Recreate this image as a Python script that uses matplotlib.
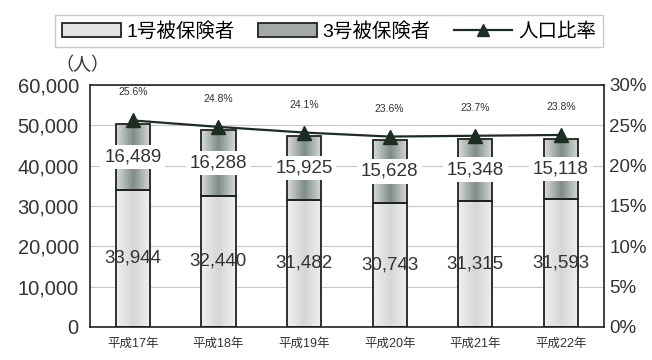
import numpy as np
import matplotlib.pyplot as plt
from matplotlib.colors import LinearSegmentedColormap

plt.rcParams['font.family'] = ['Liberation Sans', 'Noto Sans CJK JP']

years = ['平成17年', '平成18年', '平成19年', '平成20年', '平成21年', '平成22年']
gou1 = [33944, 32440, 31482, 30743, 31315, 31593]
gou3 = [16489, 16288, 15925, 15628, 15348, 15118]
ratio = [25.6, 24.8, 24.1, 23.6, 23.7, 23.8]

fig = plt.figure(figsize=(6.52, 3.6), dpi=100)
ax = fig.add_axes([0.138, 0.092, 0.788, 0.672])
x = np.arange(len(years))

ax.yaxis.grid(True, color='#c8c8c8', lw=0.8)
ax.set_axisbelow(True)
b1 = ax.bar(x, gou1, 0.4, color='#dedede', edgecolor='#222222', lw=1.3, label='1号被保険者')
b2 = ax.bar(x, gou3, 0.4, bottom=gou1, color='#a3aaa6', edgecolor='#222222', lw=1.3, label='3号被保険者')

# horizontal shading inside the bars
cm1 = LinearSegmentedColormap.from_list('g1', ['#f0f0f0', '#d6d6d6', '#f0f0f0'])
cm2 = LinearSegmentedColormap.from_list('g2', ['#d8dcda', '#7f8c86', '#d8dcda'])
grad = np.linspace(0, 1, 64).reshape(1, -1)
for bars, cm in [(b1, cm1), (b2, cm2)]:
    for r in bars:
        bx, by = r.get_x(), r.get_y()
        im = ax.imshow(grad, cmap=cm, aspect='auto', zorder=r.get_zorder(),
                       extent=(bx, bx + r.get_width(), by, by + r.get_height()))
        im.set_clip_path(r)
        r.set_facecolor('none')
        r.set_zorder(r.get_zorder() + 0.1)

for i in range(len(x)):
    ax.text(x[i], gou1[i] / 2, f'{gou1[i]:,}', ha='center', va='center', fontsize=13.5, color='#333333', zorder=5)
    ax.text(x[i], gou1[i] + gou3[i] / 2, f'{gou3[i]:,}', ha='center', va='center', fontsize=13.5, color='#333333',
            zorder=5, bbox=dict(boxstyle='square,pad=0.2', fc='white', ec='none'))

ax.set_ylim(0, 60000)
ax.set_xlim(-0.5, 5.5)
ax.set_yticks(range(0, 60001, 10000))
ax.set_yticklabels([f'{v:,}' for v in range(0, 60001, 10000)], fontsize=14.5, color='#333333')
ax.set_xticks(x)
ax.set_xticklabels(years, fontsize=9, color='#333333')
ax.tick_params(length=0, pad=8)
for s in ax.spines.values():
    s.set_color('#222222')
    s.set_linewidth(1.2)

ax2 = ax.twinx()
ln, = ax2.plot(x, ratio, color='#1c2e24', lw=1.6, marker='^', markersize=10, label='人口比率')
for i in range(len(x)):
    ax2.annotate(f'{ratio[i]}%', (x[i], ratio[i]), xytext=(0, 18), textcoords='offset points',
                 ha='center', fontsize=7.5, color='#333333')
ax2.set_ylim(0, 30)
ax2.set_yticks(range(0, 31, 5))
ax2.set_yticklabels([f'{v}%' for v in range(0, 31, 5)], fontsize=13.5, color='#333333')
ax2.tick_params(length=0, pad=4)
for s in ax2.spines.values():
    s.set_visible(False)

fig.text(0.085, 0.805, '（人）', fontsize=13, color='#333333')

leg = fig.legend([b1, b2, ln], ['1号被保険者', '3号被保険者', '人口比率'], loc='upper center',
                 bbox_to_anchor=(0.505, 0.985), ncol=3, fontsize=14, frameon=True, fancybox=False,
                 handlelength=3.0, handletextpad=0.3, columnspacing=1.2, borderpad=0.35, markerscale=0.8)
leg.get_frame().set_edgecolor('#bbbbbb')
leg.legend_handles[0].set_facecolor('#e4e4e4')
leg.legend_handles[1].set_facecolor('#a3aaa6')

fig.savefig('out.png', dpi=100)
